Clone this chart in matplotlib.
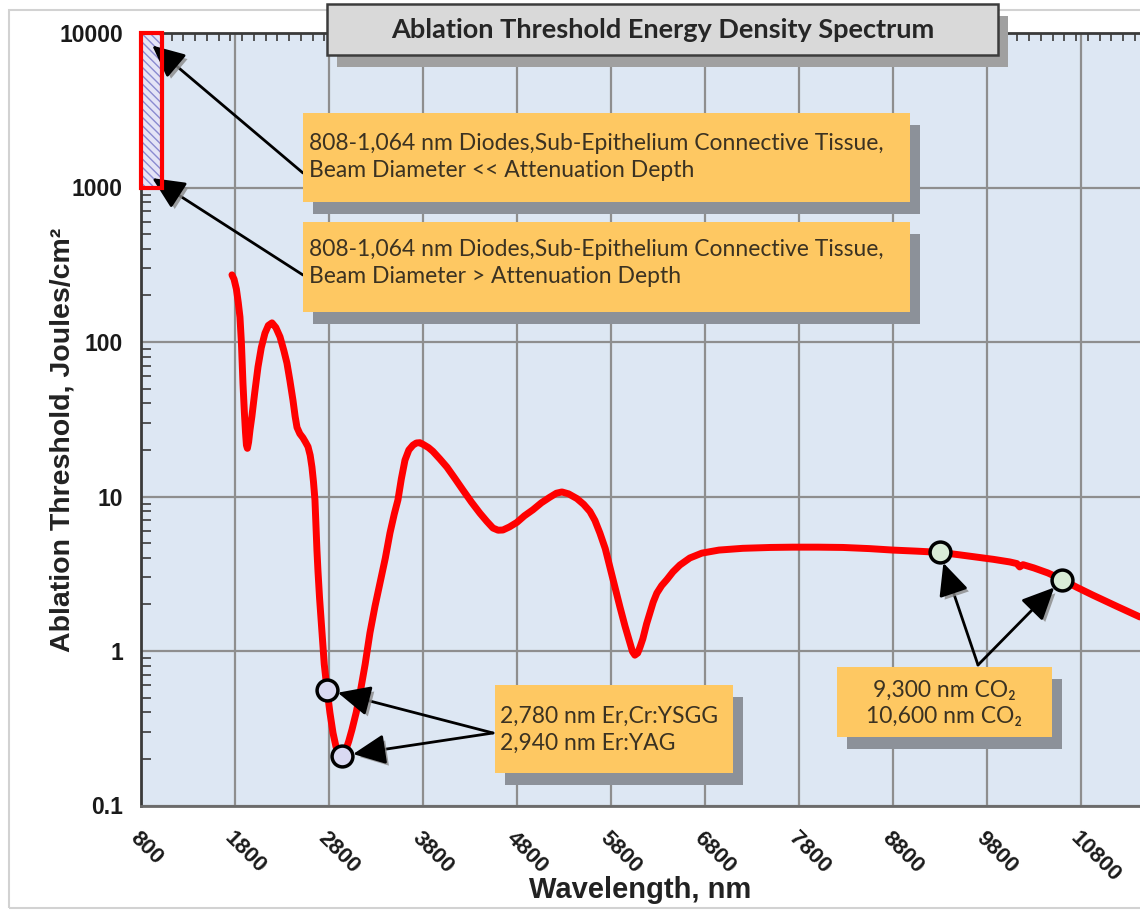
import numpy as np
import matplotlib
matplotlib.use("Agg")
import matplotlib.pyplot as plt
from matplotlib.patches import Rectangle
from matplotlib.ticker import FixedLocator, MultipleLocator, LogLocator, NullFormatter
import matplotlib.patheffects as pe

# ablation threshold curve (nm, J/cm^2)
wavelength = [1768, 1790, 1815, 1835, 1853, 1868, 1885, 1900, 1912, 1922, 1932, 1945,
              1960, 1980, 2010, 2045, 2080, 2119, 2155, 2194, 2235, 2279, 2320, 2353,
              2385, 2417, 2440, 2460, 2490, 2523, 2550, 2577, 2600, 2619, 2635, 2651,
              2662, 2672, 2683, 2700, 2726, 2750, 2780, 2810, 2843, 2875, 2905, 2940,
              2975, 3010, 3045, 3090, 3130, 3185, 3236, 3290, 3343, 3400, 3449, 3495,
              3534, 3570, 3609, 3650, 3694, 3730, 3768, 3810, 3860, 3906, 3980, 4055,
              4140, 4226, 4316, 4406, 4480, 4545, 4600, 4651, 4720, 4800, 4880, 4970,
              5060, 5151, 5220, 5279, 5350, 5438, 5510, 5577, 5630, 5683, 5740, 5789,
              5845, 5896, 5950, 6002, 6030, 6055, 6085, 6110, 6140, 6180, 6215, 6250,
              6289, 6340, 6396, 6460, 6534, 6640, 6768, 6950, 7204, 7500, 7736, 8000,
              8268, 8550, 8800, 9050, 9300, 9500, 9694, 9870, 10045, 10120, 10150, 10185,
              10300, 10450, 10600, 10760, 10928, 11180, 11430]
threshold = [272, 255, 220, 180, 145, 100, 54, 35, 26, 21.5, 20.5, 22.5,
             27, 33, 47, 69, 92, 114, 128, 133, 124, 108, 88, 73,
             56, 42, 33, 28, 25.5, 24, 22.5, 21, 18.5, 15.5, 12.5, 9.5,
             6.5, 4.5, 3.3, 2.2, 1.31, 0.82, 0.56, 0.40, 0.295, 0.24, 0.215, 0.21,
             0.225, 0.26, 0.31, 0.40, 0.53, 0.82, 1.31, 1.95, 2.75, 4.0, 5.8, 7.7,
             9.5, 13, 17.2, 20, 21.5, 22.2, 22.3, 21.6, 20.7, 19.6, 17.5, 15.5,
             13.1, 11, 9.2, 7.8, 6.9, 6.25, 6.05, 6.07, 6.35, 6.8, 7.5, 8.2,
             9.1, 9.9, 10.5, 10.7, 10.4, 9.7, 8.9, 8.0, 7.0, 5.8, 4.6, 3.5,
             2.55, 1.93, 1.45, 1.13, 0.99, 0.94, 0.97, 1.06, 1.2, 1.5, 1.76, 2.07,
             2.37, 2.65, 2.9, 3.25, 3.6, 4.0, 4.3, 4.5, 4.62, 4.68, 4.7, 4.7,
             4.68, 4.6, 4.5, 4.43, 4.35, 4.2, 4.05, 3.92, 3.77, 3.68, 3.5, 3.62,
             3.45, 3.2, 2.9, 2.58, 2.3, 1.95, 1.66]

er_lasers = [2780, 2940]
er_values = [0.56, 0.21]
co2_lasers = [9300, 10600]
co2_values = [4.35, 2.9]

diode_band = [800, 1020]
diode_range = [1000, 10000]

xticks = list(range(800, 11801, 1000))
yticks = [0.1, 1, 10, 100, 1000, 10000]
ytick_labels = ["0.1", "1", "10", "100", "1000", "10000"]

W, H = 1140, 910


def fpx(x, y):
    return x / W, 1 - y / H


def fig_box(fig, x0, y0, x1, y1, face, edge, lw, shadow, dx=10, dy=12):
    sx, sy = fpx(x0 + dx, y1 + dy)
    fig.add_artist(Rectangle((sx, sy), (x1 - x0) / W, (y1 - y0) / H,
                             transform=fig.transFigure, facecolor=shadow,
                             edgecolor="none", zorder=5))
    bx, by = fpx(x0, y1)
    fig.add_artist(Rectangle((bx, by), (x1 - x0) / W, (y1 - y0) / H,
                             transform=fig.transFigure, facecolor=face,
                             edgecolor=edge, linewidth=lw, zorder=6))


fig = plt.figure(figsize=(11.4, 9.1), dpi=100)
ax = fig.add_axes([141 / W, 1 - 805.5 / H, 999 / W, 772.5 / H])
ax.set_facecolor("#dde7f3")
ax.set_yscale("log")
ax.set_xlim(800, 11430)
ax.set_ylim(0.1, 10000)

ax.grid(True, which="major", color="#8e8e8e", linewidth=1.6)
ax.set_axisbelow(True)

ax.plot(wavelength, threshold, color="#ff0000", linewidth=5, zorder=3,
        solid_capstyle="round", solid_joinstyle="round")

# diode band
ax.add_patch(Rectangle((diode_band[0], diode_range[0]), diode_band[1] - diode_band[0],
                       diode_range[1] - diode_range[0], facecolor="#e4e4f6",
                       edgecolor="#8a8ad0", hatch="\\\\\\\\", linewidth=0, zorder=2))
ax.add_patch(Rectangle((diode_band[0], diode_range[0]), diode_band[1] - diode_band[0],
                       diode_range[1] - diode_range[0], facecolor="none",
                       edgecolor="#ff0000", linewidth=3, zorder=4, clip_on=False))

ax.plot(er_lasers, er_values, "o", ms=15, mfc="#d9d9f2", mec="black", mew=2.5, zorder=5)
ax.plot(co2_lasers, co2_values, "o", ms=15, mfc="#d8ebd6", mec="black", mew=2.5, zorder=5)

for s in ["left", "top"]:
    ax.spines[s].set_color("#3a3a3a")
    ax.spines[s].set_linewidth(2)
ax.spines["bottom"].set_color("#6a6a6a")
ax.spines["bottom"].set_linewidth(2)
ax.spines["right"].set_visible(False)

ax.xaxis.set_major_locator(FixedLocator(xticks))
ax.xaxis.set_minor_locator(MultipleLocator(125))
ax.set_xticklabels([str(t) for t in xticks], rotation=-45, ha="left", va="top",
                   rotation_mode="anchor", fontsize=16, fontweight="bold",
                   family="Liberation Sans", color="#1a1a1a")
ax.tick_params(axis="x", which="both", bottom=False, top=True, direction="in",
               length=6, width=1.2, color="#3a3a3a", pad=16)
ax.tick_params(axis="x", which="major", length=0)

ax.set_yticks(yticks)
ax.set_yticklabels(ytick_labels, fontsize=16.5, fontweight="bold",
                   family="Liberation Sans", color="#1a1a1a")
ax.yaxis.set_minor_locator(LogLocator(base=10, subs=np.arange(2, 10)))
ax.yaxis.set_minor_formatter(NullFormatter())
ax.tick_params(axis="y", which="both", direction="in", color="#3a3a3a", width=1.2)
ax.tick_params(axis="y", which="major", length=0, pad=13)
ax.tick_params(axis="y", which="minor", length=7)

ax.set_ylabel("Ablation Threshold, Joules/cm²", fontsize=20.5, fontweight="bold",
              family="Liberation Sans", color="#222222", va="center")
ax.yaxis.set_label_coords(-0.079, 0.473)
ax.set_xlabel("Wavelength, nm", fontsize=21, fontweight="bold",
              family="Liberation Sans", color="#222222", va="center")
ax.xaxis.set_label_coords(0.5, -0.11)

# outer frame
fx, fy = fpx(9, 908)
fig.add_artist(Rectangle((fx, fy), 1.2, 898 / H, transform=fig.transFigure,
                         facecolor="none", edgecolor="#d2d2d2", linewidth=1.5, zorder=0))

# title box
fig_box(fig, 327, 4, 998, 55, "#d9d9d9", "#3c3c3c", 1.8, "#a0a0a0")
tx, ty = fpx(663, 30)
fig.text(tx, ty, "Ablation Threshold Energy Density Spectrum", ha="center", va="center",
         fontsize=19.5, fontweight="bold", family="Lato", color="#262626", zorder=7)

box_face = "#fec862"
box_shadow = "#8c9199"
txt_kw = dict(fontsize=16.5, family=["Lato", "DejaVu Sans"], color="#3b3222", zorder=7)

fig_box(fig, 303, 113, 910, 202, box_face, "none", 0, box_shadow)
fig_box(fig, 303, 222, 910, 312, box_face, "none", 0, box_shadow)
fig_box(fig, 495, 685, 733, 773, box_face, "none", 0, box_shadow)
fig_box(fig, 837, 667, 1052, 737, box_face, "none", 0, box_shadow)

x, y = fpx(309, 157)
fig.text(x, y, "808-1,064 nm Diodes,Sub-Epithelium Connective Tissue,\nBeam Diameter << Attenuation Depth",
         ha="left", va="center", linespacing=1.35, **txt_kw)
x, y = fpx(309, 263)
fig.text(x, y, "808-1,064 nm Diodes,Sub-Epithelium Connective Tissue,\nBeam Diameter > Attenuation Depth",
         ha="left", va="center", linespacing=1.35, **txt_kw)
x, y = fpx(500, 730)
fig.text(x, y, "2,780 nm Er,Cr:YSGG\n2,940 nm Er:YAG", ha="left", va="center",
         linespacing=1.35, **txt_kw)
x, y = fpx(944, 703)
fig.text(x, y, "9,300 nm CO₂\n10,600 nm CO₂", ha="center", va="center",
         linespacing=1.3, multialignment="center", **txt_kw)

arrow_kw = dict(arrowstyle="-|>,head_length=0.9,head_width=0.42", color="black", lw=2,
                mutation_scale=22, shrinkA=0,
                path_effects=[pe.SimplePatchShadow(offset=(2.5, -2.5), shadow_rgbFace="#888888",
                                                   alpha=0.8), pe.Normal()])

band_mid = (diode_band[0] + diode_band[1]) / 2 + 10
ax.annotate("", xy=(band_mid, diode_range[1] * 0.83), xytext=fpx(303, 173),
            textcoords="figure fraction", annotation_clip=False,
            arrowprops=dict(shrinkB=0, **arrow_kw))
ax.annotate("", xy=(band_mid, diode_range[0] * 1.15), xytext=fpx(303, 275),
            textcoords="figure fraction", annotation_clip=False,
            arrowprops=dict(shrinkB=0, **arrow_kw))
for wl, v in zip(er_lasers, er_values):
    ax.annotate("", xy=(wl, v), xytext=fpx(493, 733), textcoords="figure fraction",
                annotation_clip=False, arrowprops=dict(shrinkB=8, **arrow_kw))
for wl, v in zip(co2_lasers, co2_values):
    ax.annotate("", xy=(wl, v), xytext=fpx(978, 665), textcoords="figure fraction",
                annotation_clip=False, arrowprops=dict(shrinkB=8, **arrow_kw))

fig.savefig("out.png", dpi=100)
